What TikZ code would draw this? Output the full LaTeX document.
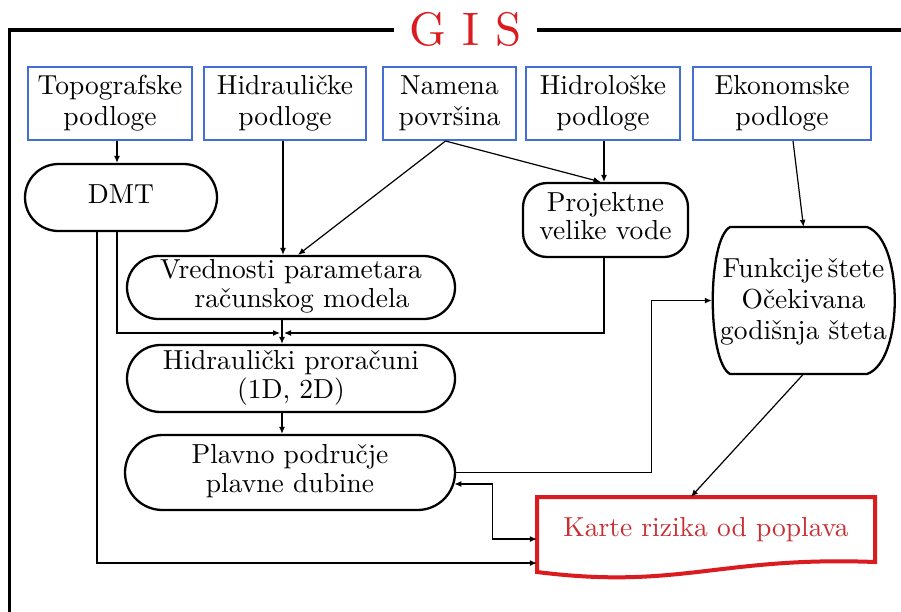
\documentclass[tikz,border=0pt]{standalone}
\usepackage{graphicx}
\usetikzlibrary{shapes.misc,arrows.meta,calc}
\definecolor{boxblue}{RGB}{66,110,214}
\definecolor{gisred}{RGB}{218,28,32}
\definecolor{karred}{RGB}{200,45,50}
\newcommand{\tx}[2][0.9]{\scalebox{2.75}{\def\arraystretch{#1}\begin{tabular}{@{}c@{}}#2\end{tabular}}}
\begin{document}
\begin{tikzpicture}[x=1pt,y=-1pt,
  inputbox/.style={draw=boxblue,line width=2pt,rectangle,minimum height=73pt,inner sep=0pt},
  roundbox/.style={draw,line width=2.3pt,rounded rectangle,inner sep=0pt},
  projbox/.style={draw,line width=2.3pt,rectangle,rounded corners=24pt,inner sep=0pt},
  plainbox/.style={rectangle,inner sep=0pt},
  arr/.style={-{Latex[length=7pt,width=6pt]},line width=1.2pt},
  dblarr/.style={{Latex[length=7pt,width=6pt]}-{Latex[length=7pt,width=6pt]},line width=1.2pt},
  framestyle/.style={line width=3.5pt}
]
\useasboundingbox (0,0) rectangle (901,611);
\fill[white] (0,0) rectangle (901,611);

% title and frame
\node[text=gisred,anchor=base,inner sep=0pt] (gis) at (465.5,45) {\scalebox{4.7}{G I S}};
\draw[framestyle] (394,30) -- (9.5,30) -- (9.5,616);
\draw[framestyle] (537,30) -- (906,30);

% input boxes
\node[inputbox,minimum width=164pt] (topo) at (110,103.5) {\tx[0.96]{Topografske\\podloge}};
\node[inputbox,minimum width=162pt] (hidr) at (285,103.5) {\tx[0.96]{Hidrauličke\\podloge}};
\node[inputbox,minimum width=133pt] (namena) at (449.5,103.5) {\tx[0.96]{Namena\\površina}};
\node[inputbox,minimum width=154pt] (hidrol) at (603,103.5) {\tx[0.96]{Hidrološke\\podloge}};
\node[inputbox,minimum width=178pt] (ekon) at (782,103.5) {\tx[0.96]{Ekonomske\\podloge}};

% process nodes
\node[roundbox,minimum width=192pt,minimum height=67pt] (dmt) at (121,197.5) {\tx{DMT}};
\node[roundbox,minimum width=328pt,minimum height=63pt] (vred) at (291,287.5) {\tx[0.88]{Vrednosti parametara\\\hspace{8pt}računskog modela}};
\node[roundbox,minimum width=328pt,minimum height=67pt] (hid) at (291,378.5) {\tx[0.88]{Hidraulički proračuni\\(1D, 2D)}};
\node[roundbox,minimum width=330pt,minimum height=75pt] (plav) at (290,472.5) {\tx[0.88]{Plavno područje\\plavne dubine}};
\node[projbox,minimum width=165pt,minimum height=74pt] (proj) at (605.5,220) {\tx[0.82]{Projektne\\velike vode}};

\node[plainbox,minimum width=183pt,minimum height=147pt] (funk) at (803.5,302) {\tx[0.94]{Funkcije\,štete\\Očekivana\\godišnja šteta}};
\draw[line width=2.3pt] (730,227) -- (867,227) .. controls (904,240) and (904,361) .. (867,374) -- (730,374) .. controls (707,361) and (707,240) .. (730,227) -- cycle;

\node[plainbox,minimum width=338pt,minimum height=68pt,text=karred] (karte) at (706,531) {\tx{Karte rizika od poplava}};
\draw[gisred,line width=4pt,line join=miter] (537,497) -- (875,497) -- (875,562) .. controls (720,556) and (680,590) .. (537,572) -- cycle;

% connectors
\coordinate (junc) at (282,333);
\draw[arr] ([xshift=7pt]topo.south) -- ([xshift=7pt]topo.south |- dmt.north);
\draw[arr] ([xshift=-2pt]hidr.south) -- ([xshift=-2pt]hidr.south |- vred.north);
\draw[arr] ([xshift=-4pt]namena.south) -- ([xshift=7pt]vred.north);
\draw[arr] ([xshift=-4pt]namena.south) -- ([xshift=-5pt]proj.north);
\draw[arr] ([xshift=1pt]hidrol.south) -- ([xshift=1pt]hidrol.south |- proj.north);
\draw[arr] ([xshift=11pt]ekon.south) -- ([yshift=1.5pt]funk.north);
\draw[arr] ([xshift=-4pt]dmt.south) |- ([xshift=-2pt]junc);
\draw[arr] ([xshift=-1.5pt]proj.south) |- ([xshift=2pt]junc);
\draw[arr] (vred.south -| junc) -- (hid.north -| junc);
\draw[arr] (hid.south -| junc) -- (plav.north -| junc);
\draw[arr] (plav.east) -| ([xshift=-60pt,yshift=1.5pt]funk.west) -- ([yshift=1.5pt]funk.west);
\draw[dblarr] (plav.-4) -| ([xshift=-44pt,yshift=-8pt]karte.west) -- ([yshift=-8pt]karte.west);
\draw[arr] ([yshift=-72pt]funk.center) -- ([xshift=-15pt]karte.north);
\draw[arr] ([xshift=-24pt]dmt.south) |- ([yshift=-32pt]karte.west);
\end{tikzpicture}
\end{document}
